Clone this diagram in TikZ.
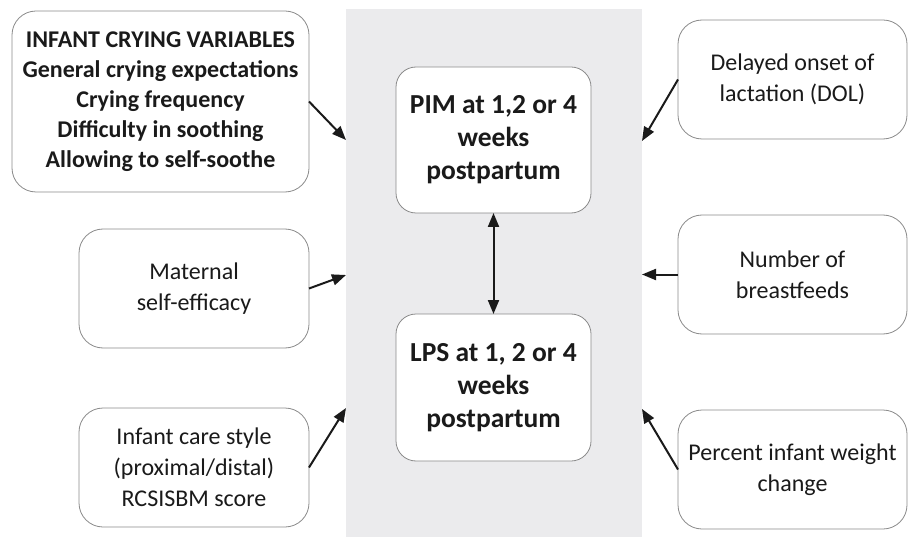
\documentclass[tikz,border=0pt]{standalone}
\usepackage{fontspec}
\setmainfont{Carlito}
\usetikzlibrary{arrows.meta}
\definecolor{panel}{HTML}{EBEBED}
\definecolor{boxline}{HTML}{8A8A8A}
\definecolor{ink}{HTML}{1A1A1A}
\tikzset{
  box/.style={draw=boxline, line width=0.8pt, fill=white, rounded corners=24pt,
    align=center, inner sep=0pt, outer sep=0pt, text=ink},
  sidebox/.style={box, minimum width=230pt, minimum height=119pt,
    font=\fontsize{24}{31}\selectfont},
  midbox/.style={box, rounded corners=20pt, minimum width=195pt, minimum height=146pt,
    font=\fontsize{27.5}{33}\selectfont\bfseries},
  conn/.style={line width=2pt, draw=ink, -{Triangle[length=14pt,width=11pt]}},
  dconn/.style={line width=2pt, draw=ink, {Triangle[length=14pt,width=11pt]}-{Triangle[length=14pt,width=11pt]}}
}
\begin{document}
\begin{tikzpicture}[x=1pt,y=-1pt]
\useasboundingbox (0,0) rectangle (912,537);
\fill[panel] (346,9) rectangle (642,537);

\node[box, minimum width=297pt, minimum height=181pt,
  font=\fontsize{24}{30}\selectfont\bfseries] (cry) at (160.5,101.5)
  {INFANT CRYING VARIABLES\\General crying expectations\\Crying frequency\\Difficulty in soothing\\Allowing to self-soothe};
\node[sidebox] (mat) at (194,288.5) {Maternal\\self-efficacy};
\node[sidebox] (care) at (194,467.5) {Infant care style\\(proximal/distal)\\RCSISBM score};

\node[midbox] (pim) at (493.5,140) {PIM at 1,2 or 4\\weeks\\postpartum};
\node[midbox, minimum height=147pt] (lps) at (493.5,387.5) {LPS at 1, 2 or 4\\weeks\\postpartum};

\node[sidebox, minimum width=229pt] (dol) at (792.5,79.5) {Delayed onset of\\lactation (DOL)};
\node[sidebox, minimum width=229pt] (num) at (792.5,274.5) {Number of\\breastfeeds};
\node[sidebox, minimum width=229pt] (pct) at (792.5,469.5) {Percent infant weight\\change};

\coordinate (e1) at (346,140);
\coordinate (e2) at (346,275);
\coordinate (e3) at (346,408);
\coordinate (e4) at (642,141);
\coordinate (e5) at (642,274.5);
\coordinate (e6) at (642,409);

\draw[conn] (cry.east) -- (e1);
\draw[conn] (mat.east) -- (e2);
\draw[conn] (care.east) -- (e3);
\draw[conn] (dol.west) -- (e4);
\draw[conn] (num.west) -- (e5);
\draw[conn] (pct.west) -- (e6);
\draw[dconn] (pim.south) -- (lps.north);
\end{tikzpicture}
\end{document}
